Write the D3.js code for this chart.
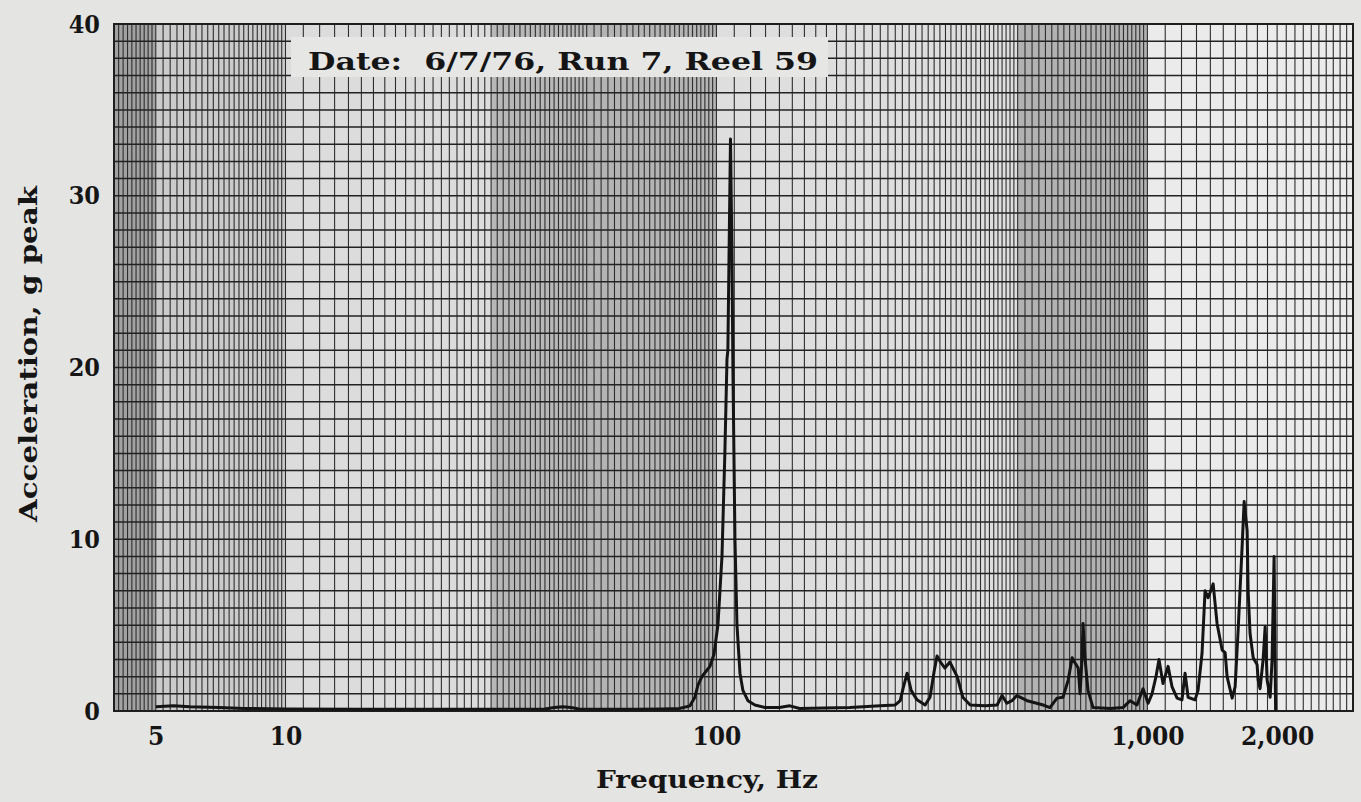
<!DOCTYPE html>
<html>
<head>
<meta charset="utf-8">
<script src="https://cdn.jsdelivr.net/npm/d3@7"></script>
<style>
  html, body { margin: 0; padding: 0; background: #e4e4e2; }
  svg { display: block; }
  text { font-family: "DejaVu Serif Condensed", "DejaVu Serif", serif; font-weight: bold; fill: #151515; }
</style>
</head>
<body>
<svg id="chart" width="1361" height="802"></svg>
<script>
// ---- data ----
const freqHz = [5, 5.5, 6, 7, 8, 10, 15, 20, 30, 40, 42, 44, 46, 48, 55, 65, 75, 82,
  86.8, 89.1, 90.6, 92.5, 94.5, 96.6, 98.7, 100.8, 103, 104.6, 105.8, 106.3, 106.9, 107.8,
  108.6, 109.2, 110.4, 111.6, 113.4, 115.2, 118.3, 122.8, 129.6, 140, 148, 156, 204, 240,
  260, 267, 271, 277, 283, 292, 305, 313, 320, 325, 332, 339, 348, 362, 373, 388, 420, 448,
  460, 472, 485, 498, 526, 573, 594, 617, 637, 655, 669, 683, 691, 698, 705, 709, 717, 728,
  748, 820, 878, 912, 946, 977, 1004, 1025, 1047, 1064, 1087, 1117, 1141, 1172, 1203, 1223,
  1243, 1290, 1311, 1339, 1361, 1383, 1398, 1421, 1451, 1491, 1515, 1531, 1573, 1598, 1624,
  1659, 1677, 1704, 1713, 1731, 1760, 1797, 1807, 1826, 1856, 1876, 1896, 1927, 1947, 1968, 1984];
const accelG = [0.25, 0.3, 0.25, 0.2, 0.15, 0.12, 0.1, 0.1, 0.1, 0.12, 0.2, 0.25, 0.2, 0.12, 0.1, 0.1, 0.12, 0.15,
  0.3, 0.8, 1.5, 2.0, 2.3, 2.6, 3.3, 5, 9, 15, 20.5, 21, 26, 33.3,
  27, 20, 10, 5, 2.2, 1.2, 0.6, 0.35, 0.2, 0.2, 0.3, 0.15, 0.2, 0.3,
  0.35, 0.6, 1.3, 2.2, 1.2, 0.65, 0.35, 0.8, 2.3, 3.2, 2.8, 2.5, 2.85, 2.0, 0.8, 0.35, 0.3, 0.35,
  0.9, 0.45, 0.6, 0.9, 0.6, 0.35, 0.2, 0.75, 0.8, 1.8, 3.1, 2.7, 2.5, 1.0, 3.0, 5.1, 3.0, 1.2,
  0.2, 0.15, 0.2, 0.6, 0.35, 1.3, 0.45, 1.0, 2.0, 3.0, 1.6, 2.6, 1.4, 0.75, 0.65, 2.2,
  0.8, 0.65, 1.2, 3.35, 7.0, 6.6, 6.9, 7.4, 5.1, 3.55, 3.4, 2.0, 0.75, 1.4, 4.7,
  9.6, 12.2, 10.5, 7.0, 4.5, 3.1, 2.7, 1.8, 1.3, 3.0, 4.9, 1.8, 0.8, 3.0, 9.0, 0.0];

const xTickValues = [5, 10, 100, 1000, 2000];
const xTickLabels = ["5", "10", "100", "1,000", "2,000"];
const yTickValues = [0, 10, 20, 30, 40];
const xDomain = [4, 3000];
const yDomain = [0, 40];
const xTitle = "Frequency, Hz";
const yTitle = "Acceleration, g peak";
const noteText = "Date:  6/7/76, Run 7, Reel 59";

// graph-paper bands (edges in Hz) and vertical-rule spacing per band
const bandEdges = [4, 5, 10, 30, 50, 100, 500, 1000, 3000];
const bandStep  = [0.1, 0.2, 1, 1, 2, 10, 20, 100];

// ---- styles / layout ----
const bandFill = ["#a2a2a2", "#cbcbcb", "#dcdcdc", "#b8b8b8", "#b4b4b4", "#dedede", "#b2b2b2", "#ebebeb"];
const L = 114, R = 1353, T = 24, B = 711;

const svg = d3.select("#chart");
const x = d3.scaleLog().domain(xDomain).range([L, R]);
const y = d3.scaleLinear().domain(yDomain).range([B, T]);

// bands
const bands = d3.range(bandEdges.length - 1).map(i => ({a: bandEdges[i], b: bandEdges[i+1], i}));
svg.append("g").selectAll("rect").data(bands).join("rect")
  .attr("x", d => x(d.a)).attr("y", T)
  .attr("width", d => x(d.b) - x(d.a)).attr("height", B - T)
  .attr("fill", d => bandFill[d.i]);

// vertical rules
const vLines = [];
bands.forEach(d => {
  const s = bandStep[d.i];
  const n = Math.round((d.b - d.a) / s);
  for (let k = 0; k < n; k++) vLines.push(+(d.a + k * s).toFixed(4));
});
vLines.push(3000);
const grid = svg.append("g");
grid.selectAll("line.v").data(vLines).join("line").attr("class", "v")
  .attr("x1", d => x(d)).attr("x2", d => x(d)).attr("y1", T).attr("y2", B)
  .attr("stroke", "#2e2e2e").attr("stroke-width", 1.1);

// horizontal rules
grid.selectAll("line.h").data(d3.range(0, 41)).join("line").attr("class", "h")
  .attr("x1", L).attr("x2", R).attr("y1", d => y(d)).attr("y2", d => y(d))
  .attr("stroke", "#222").attr("stroke-width", 1.5);

// frame
svg.append("rect").attr("x", L).attr("y", T).attr("width", R - L).attr("height", B - T)
  .attr("fill", "none").attr("stroke", "#1e1e1e").attr("stroke-width", 2);

// note box
svg.append("rect").attr("x", 291).attr("y", 37).attr("width", 537).attr("height", 40)
  .attr("fill", "#e6e6e4");
svg.append("text").attr("x", 308).attr("y", 70).attr("font-size", 25)
  .attr("textLength", 510).attr("lengthAdjust", "spacingAndGlyphs")
  .attr("xml:space", "preserve").style("white-space", "pre").text(noteText);

// curve
const pts = freqHz.map((f, i) => [f, accelG[i]]);
svg.append("path").datum(pts)
  .attr("d", d3.line().x(d => x(d[0])).y(d => y(d[1])))
  .attr("fill", "none").attr("stroke", "#141414").attr("stroke-width", 3)
  .attr("stroke-linejoin", "round");

// axes
const xAxis = d3.axisBottom(x).tickValues(xTickValues)
  .tickFormat((d, i) => xTickLabels[i]).tickSize(0).tickPadding(16);
const gx = svg.append("g").attr("transform", `translate(0,${B})`).call(xAxis);
gx.select(".domain").remove();
gx.selectAll("text").attr("font-size", 26).attr("font-family", null).style("fill", "#151515");

const yAxis = d3.axisLeft(y).tickValues(yTickValues).tickSize(0).tickPadding(14);
const gy = svg.append("g").attr("transform", `translate(${L},0)`).call(yAxis);
gy.select(".domain").remove();
gy.selectAll("text").attr("font-size", 25).attr("font-family", null).style("fill", "#151515");

// titles
svg.append("text").attr("x", 707).attr("y", 788).attr("text-anchor", "middle")
  .attr("font-size", 25).attr("textLength", 222).attr("lengthAdjust", "spacingAndGlyphs").text(xTitle);
svg.append("text").attr("transform", "translate(37,354) rotate(-90)")
  .attr("text-anchor", "middle").attr("font-size", 25)
  .attr("textLength", 336).attr("lengthAdjust", "spacingAndGlyphs").text(yTitle);
</script>
</body>
</html>
